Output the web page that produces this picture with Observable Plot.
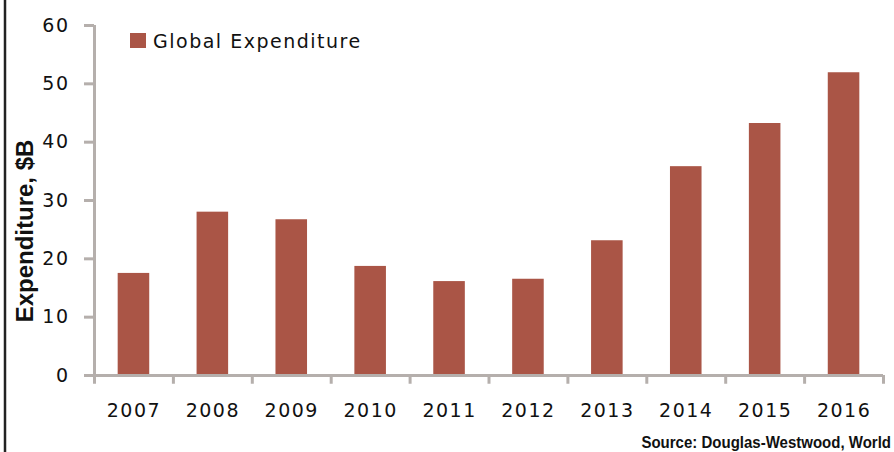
<!DOCTYPE html>
<html>
<head>
<meta charset="utf-8">
<script src="https://cdn.jsdelivr.net/npm/d3@7"></script>
<script src="https://cdn.jsdelivr.net/npm/@observablehq/plot@0.6"></script>
<style>
  html, body { margin: 0; padding: 0; background: #fff; }
  #wrap { position: relative; width: 894px; height: 452px; overflow: hidden; }
  #wrap > svg { position: absolute; left: 0; top: 0; }
  .plot text { letter-spacing: 1.5px; }
</style>
</head>
<body>
<div id="wrap"></div>
<script>
const years = ["2007","2008","2009","2010","2011","2012","2013","2014","2015","2016"];
const expenditure = [17.5, 28, 26.7, 18.7, 16.1, 16.5, 23.1, 35.8, 43.2, 51.9];
const yTicks = [0, 10, 20, 30, 40, 50, 60];
const seriesName = "Global Expenditure";
const yLabel = "Expenditure, $B";
const sourceText = "Source: Douglas-Westwood, World";

const barColor = "#aa5546";
const axisGrey = "#b5afac";
const W = 894, H = 452;
const mL = 94, mR = 11, mT = 25, mB = 77;
const step = (W - mL - mR) / 10;

const data = years.map((y, i) => ({year: y, value: expenditure[i]}));

const chart = Plot.plot({
  width: W, height: H,
  marginLeft: mL, marginRight: mR, marginTop: mT, marginBottom: mB,
  className: "plot",
  style: {fontFamily: "DejaVu Sans, Verdana, sans-serif", fontSize: "19px", background: "transparent", overflow: "visible"},
  x: {domain: years, paddingInner: 0.6, paddingOuter: 0.3, round: false},
  y: {domain: [0, 60]},
  marks: [
    Plot.barY(data, {x: "year", y: "value", fill: barColor}),
    // y axis line (left boundary of first band)
    Plot.ruleX([years[0]], {dx: -step / 2, y1: -1.5, y2: 60, stroke: axisGrey, strokeWidth: 3}),
    // category boundary ticks
    Plot.ruleX(years.slice(1), {dx: -step / 2, y1: 0, y2: -1.5, stroke: axisGrey, strokeWidth: 3}),
    Plot.ruleX([years[years.length - 1]], {dx: step / 2, y1: 0, y2: -1.5, stroke: axisGrey, strokeWidth: 3}),
    Plot.ruleY([0], {stroke: axisGrey, strokeWidth: 3}),
    Plot.axisY({ticks: yTicks, tickSize: 10, tickPadding: 15, stroke: axisGrey, strokeWidth: 3, fill: "#111", fontSize: 19, label: null, tickFormat: d => String(d)}),
    Plot.axisX({tickSize: 0, tickPadding: 28, fill: "#111", fontSize: 19, label: null})
  ]
});
document.getElementById("wrap").appendChild(chart);

// overlay: border, axis label, legend, source
const ov = d3.select("#wrap").append("svg")
  .attr("width", W).attr("height", H);

ov.append("line").attr("x1", 5).attr("x2", 5).attr("y1", 0).attr("y2", H)
  .attr("stroke", "#222").attr("stroke-width", 2.5);

ov.append("text")
  .attr("transform", "translate(33,231) rotate(-90)")
  .attr("text-anchor", "middle")
  .attr("font-family", "Liberation Sans, Arial, sans-serif")
  .attr("font-weight", "bold")
  .attr("font-size", 24)
  .attr("fill", "#111")
  .text(yLabel);

ov.append("rect").attr("x", 130).attr("y", 33).attr("width", 16).attr("height", 15).attr("fill", barColor);
ov.append("text")
  .attr("x", 153).attr("y", 48)
  .attr("font-family", "DejaVu Sans, Verdana, sans-serif")
  .attr("font-size", 19)
  .attr("letter-spacing", "1.5px")
  .attr("fill", "#111")
  .text(seriesName);

ov.append("text")
  .attr("transform", "translate(891,448) scale(0.91,1)")
  .attr("text-anchor", "end")
  .attr("font-family", "Liberation Sans, Arial, sans-serif")
  .attr("font-weight", "bold")
  .attr("font-size", 16.5)
  .attr("fill", "#111")
  .text(sourceText);
</script>
</body>
</html>
